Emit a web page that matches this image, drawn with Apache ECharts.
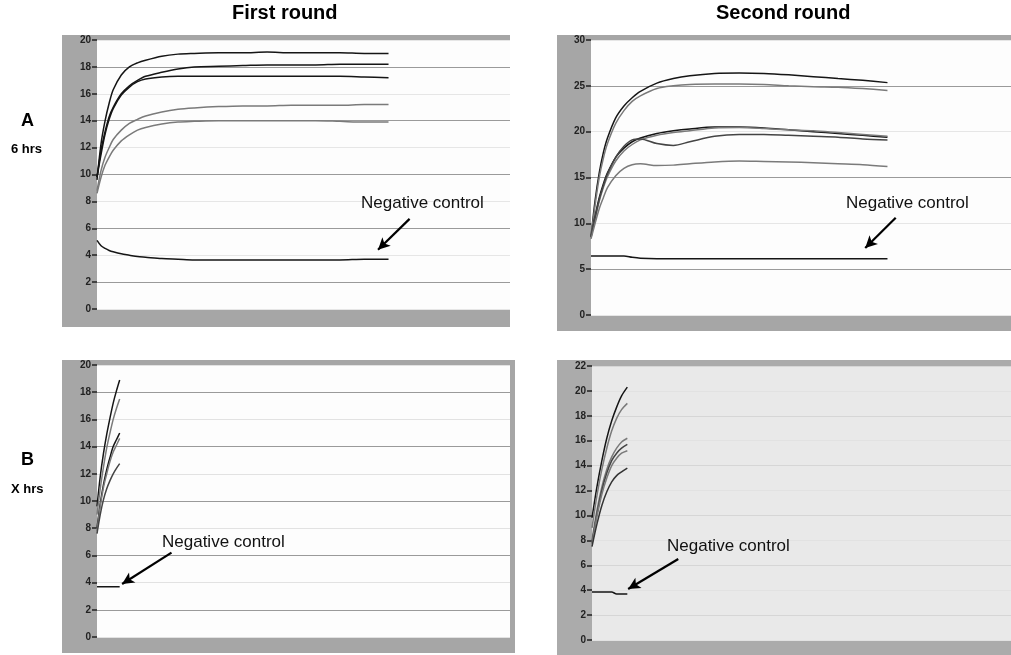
<!DOCTYPE html>
<html>
<head>
<meta charset="utf-8">
<script src="https://cdn.jsdelivr.net/npm/echarts@6/dist/echarts.min.js"></script>
<style>
  html, body { margin: 0; padding: 0; background: #fff; }
  #main { width: 1011px; height: 655px; }
</style>
</head>
<body>
<div id="main"></div>
<script>
// time points (minutes) for the 6 hrs runs
const timeTop = [0, 5, 10, 15, 20, 30, 40, 50, 60, 80, 100, 120, 150, 180, 210, 240, 270, 300, 330, 360];
// time points for the X hrs runs
const timeBL = [0, 4, 8, 12, 16, 20, 24, 28];
const timeBR = [0, 6, 12, 18, 24, 30, 36, 43];

// A, first round
const a1_1 = [9.6, 12.3, 14.0, 15.3, 16.3, 17.4, 18.0, 18.3, 18.5, 18.8, 18.95, 19.0, 19.05, 19.05, 19.1, 19.05, 19.05, 19.05, 19.0, 19.0];
const a1_2 = [9.8, 11.8, 13.2, 14.3, 15.0, 16.0, 16.6, 17.0, 17.3, 17.6, 17.85, 18.0, 18.05, 18.1, 18.15, 18.15, 18.15, 18.2, 18.2, 18.2];
const a1_3 = [9.8, 11.5, 13.0, 14.1, 14.9, 15.9, 16.5, 16.9, 17.1, 17.25, 17.3, 17.3, 17.3, 17.3, 17.3, 17.3, 17.3, 17.3, 17.25, 17.2];
const a1_4 = [8.8, 10.3, 11.3, 12.0, 12.6, 13.3, 13.8, 14.1, 14.35, 14.65, 14.85, 14.95, 15.05, 15.1, 15.1, 15.15, 15.15, 15.15, 15.2, 15.2];
const a1_5 = [8.6, 9.8, 10.7, 11.3, 11.8, 12.5, 12.95, 13.3, 13.5, 13.75, 13.9, 13.95, 14.0, 14.0, 14.0, 14.0, 14.0, 13.95, 13.9, 13.9];
const a1_neg = [5.1, 4.7, 4.5, 4.35, 4.25, 4.1, 4.0, 3.9, 3.85, 3.75, 3.7, 3.65, 3.65, 3.65, 3.65, 3.65, 3.65, 3.65, 3.7, 3.7];

// A, second round
const a2_1 = [8.5, 12.5, 15.5, 17.7, 19.3, 21.5, 22.8, 23.7, 24.4, 25.3, 25.8, 26.1, 26.35, 26.4, 26.35, 26.2, 26.0, 25.8, 25.6, 25.35];
const a2_2 = [8.5, 12.0, 15.0, 17.1, 18.7, 20.9, 22.3, 23.3, 23.9, 24.7, 25.0, 25.15, 25.2, 25.2, 25.15, 25.0, 24.9, 24.85, 24.7, 24.5];
const a2_3 = [8.5, 10.8, 12.8, 14.3, 15.5, 17.2, 18.2, 18.9, 19.3, 19.8, 20.1, 20.3, 20.5, 20.5, 20.4, 20.2, 20.0, 19.8, 19.6, 19.4];
const a2_4 = [8.5, 10.5, 12.4, 13.9, 15.1, 16.8, 17.9, 18.6, 19.1, 19.6, 19.9, 20.1, 20.4, 20.45, 20.35, 20.2, 20.1, 19.9, 19.7, 19.5];
const a2_5 = [8.5, 10.6, 12.6, 14.1, 15.4, 17.2, 18.4, 19.1, 19.2, 18.7, 18.5, 18.9, 19.5, 19.7, 19.7, 19.6, 19.5, 19.4, 19.2, 19.1];
const a2_6 = [8.3, 10.0, 11.6, 12.8, 13.9, 15.2, 16.0, 16.4, 16.5, 16.3, 16.35, 16.5, 16.7, 16.8, 16.75, 16.7, 16.6, 16.5, 16.4, 16.2];
const a2_neg = [6.45, 6.45, 6.45, 6.45, 6.45, 6.45, 6.45, 6.3, 6.2, 6.15, 6.15, 6.15, 6.15, 6.15, 6.15, 6.15, 6.15, 6.15, 6.15, 6.15];

// B, first round
const b1_1 = [9.6, 11.8, 13.5, 14.9, 16.1, 17.2, 18.1, 18.9];
const b1_2 = [9.0, 10.9, 12.5, 13.9, 15.0, 16.0, 16.8, 17.5];
const b1_3 = [8.0, 9.8, 11.2, 12.3, 13.2, 14.0, 14.5, 15.0];
const b1_4 = [7.8, 9.6, 11.0, 12.0, 12.9, 13.6, 14.1, 14.6];
const b1_5 = [7.6, 9.0, 10.1, 10.9, 11.5, 12.0, 12.4, 12.75];
const b1_neg = [3.7, 3.7, 3.7, 3.7, 3.7, 3.7, 3.7, 3.7];

// B, second round
const b2_1 = [9.8, 12.3, 14.4, 16.2, 17.6, 18.7, 19.6, 20.3];
const b2_2 = [9.0, 11.6, 13.7, 15.4, 16.8, 17.8, 18.5, 19.0];
const b2_3 = [8.0, 10.4, 12.3, 13.7, 14.7, 15.4, 15.9, 16.2];
const b2_4 = [7.8, 10.1, 12.0, 13.4, 14.4, 15.0, 15.4, 15.7];
const b2_5 = [7.7, 9.9, 11.7, 13.0, 14.0, 14.6, 15.0, 15.2];
const b2_6 = [7.5, 9.3, 10.8, 11.9, 12.7, 13.2, 13.5, 13.8];
const b2_neg = [3.85, 3.85, 3.85, 3.85, 3.85, 3.7, 3.7, 3.7];

const dom = document.getElementById('main');
const myChart = echarts.init(dom);

const BLACK = '#151515';
const GREY = '#7a7a7a';

const pairs = (t, v) => t.map((x, i) => [x, v[i]]);

const curve = (idx, t, v, color) => ({
  type: 'line',
  xAxisIndex: idx,
  yAxisIndex: idx,
  data: pairs(t, v),
  smooth: 0.3,
  showSymbol: false,
  lineStyle: { color: color, width: 1.5 },
  silent: true
});

// negative control line, with the arrow pointing at it
const negCurve = (idx, t, v, from, to) => {
  const s = curve(idx, t, v, BLACK);
  s.markLine = {
    silent: true,
    symbol: ['none', 'arrow'],
    symbolSize: [9, 12],
    lineStyle: { color: '#000', width: 2.2, type: 'solid' },
    label: { show: false },
    data: [[{ coord: from }, { coord: to }]]
  };
  return s;
};

const yAxis = (idx, max, interval, solid, faint) => ({
  type: 'value',
  gridIndex: idx,
  min: 0,
  max: max,
  interval: interval,
  axisLine: { show: false },
  axisTick: { show: true, length: 5, lineStyle: { color: '#222', width: 1.5 } },
  axisLabel: {
    margin: 6,
    fontSize: 10,
    fontWeight: 'bold',
    color: '#222',
    fontFamily: 'Liberation Sans'
  },
  splitLine: { show: true, lineStyle: { color: [faint, solid], width: 1 } }
});

const xAxis = (idx) => ({
  type: 'value',
  gridIndex: idx,
  min: 0,
  max: 510,
  show: false
});

const frame = (x, y, w, h, fill) => ({
  type: 'rect',
  z: -10,
  shape: { x: x, y: y, width: w, height: h },
  style: { fill: fill }
});

const noteText = (x, y, txt) => ({
  type: 'text',
  left: x,
  top: y,
  z: 10,
  style: { text: txt, font: '17px "Liberation Sans"', fill: '#111' }
});

option = {
  animation: false,
  backgroundColor: '#fff',
  grid: [
    { left: 97, top: 40, width: 413, height: 269, show: true, backgroundColor: '#fdfdfd', borderWidth: 0 },
    { left: 591, top: 40, width: 420, height: 275, show: true, backgroundColor: '#fdfdfd', borderWidth: 0 },
    { left: 97, top: 365, width: 413, height: 272, show: true, backgroundColor: '#fdfdfd', borderWidth: 0 },
    { left: 592, top: 366, width: 419, height: 274, show: true, backgroundColor: '#e9e9e9', borderWidth: 0 }
  ],
  xAxis: [xAxis(0), xAxis(1), xAxis(2), xAxis(3)],
  yAxis: [
    yAxis(0, 20, 2, '#9a9a9a', '#e6e6e6'),
    yAxis(1, 30, 5, '#9a9a9a', '#e6e6e6'),
    yAxis(2, 20, 2, '#9a9a9a', '#e2e2e2'),
    yAxis(3, 22, 2, '#d6d6d6', '#e2e2e2')
  ],
  graphic: [
    frame(62, 35, 448, 292, '#a6a6a6'),
    frame(557, 35, 454, 296, '#a6a6a6'),
    frame(62, 360, 453, 293, '#a6a6a6'),
    frame(557, 360, 454, 295, '#ababab'),
    { type: 'text', left: 232, top: 3, style: { text: 'First round', font: 'bold 20px "Liberation Sans"', fill: '#000' } },
    { type: 'text', left: 716, top: 3, style: { text: 'Second round', font: 'bold 20px "Liberation Sans"', fill: '#000' } },
    { type: 'text', left: 21, top: 112, style: { text: 'A', font: 'bold 18px "Liberation Sans"', fill: '#000' } },
    { type: 'text', left: 11, top: 143, style: { text: '6 hrs', font: 'bold 13px "Liberation Sans"', fill: '#000' } },
    { type: 'text', left: 21, top: 451, style: { text: 'B', font: 'bold 18px "Liberation Sans"', fill: '#000' } },
    { type: 'text', left: 11, top: 483, style: { text: 'X hrs', font: 'bold 13px "Liberation Sans"', fill: '#000' } },
    noteText(361, 195, 'Negative control'),
    noteText(846, 195, 'Negative control'),
    noteText(162, 534, 'Negative control'),
    noteText(667, 538, 'Negative control')
  ],
  series: [
    curve(0, timeTop, a1_1, BLACK),
    curve(0, timeTop, a1_2, BLACK),
    curve(0, timeTop, a1_3, BLACK),
    curve(0, timeTop, a1_4, GREY),
    curve(0, timeTop, a1_5, GREY),
    negCurve(0, timeTop, a1_neg, [386, 6.7], [347, 4.4]),

    curve(1, timeTop, a2_1, BLACK),
    curve(1, timeTop, a2_2, GREY),
    curve(1, timeTop, a2_3, BLACK),
    curve(1, timeTop, a2_4, GREY),
    curve(1, timeTop, a2_5, '#444'),
    curve(1, timeTop, a2_6, GREY),
    negCurve(1, timeTop, a2_neg, [370, 10.6], [333, 7.3]),

    curve(2, timeBL, b1_1, BLACK),
    curve(2, timeBL, b1_2, GREY),
    curve(2, timeBL, b1_3, BLACK),
    curve(2, timeBL, b1_4, GREY),
    curve(2, timeBL, b1_5, '#444'),
    negCurve(2, timeBL, b1_neg, [92, 6.2], [31, 3.9]),

    curve(3, timeBR, b2_1, BLACK),
    curve(3, timeBR, b2_2, GREY),
    curve(3, timeBR, b2_3, GREY),
    curve(3, timeBR, b2_4, '#444'),
    curve(3, timeBR, b2_5, GREY),
    curve(3, timeBR, b2_6, '#333'),
    negCurve(3, timeBR, b2_neg, [105, 6.5], [44, 4.1])
  ]
};

option && myChart.setOption(option);

window.addEventListener('resize', myChart.resize);
</script>
</body>
</html>
